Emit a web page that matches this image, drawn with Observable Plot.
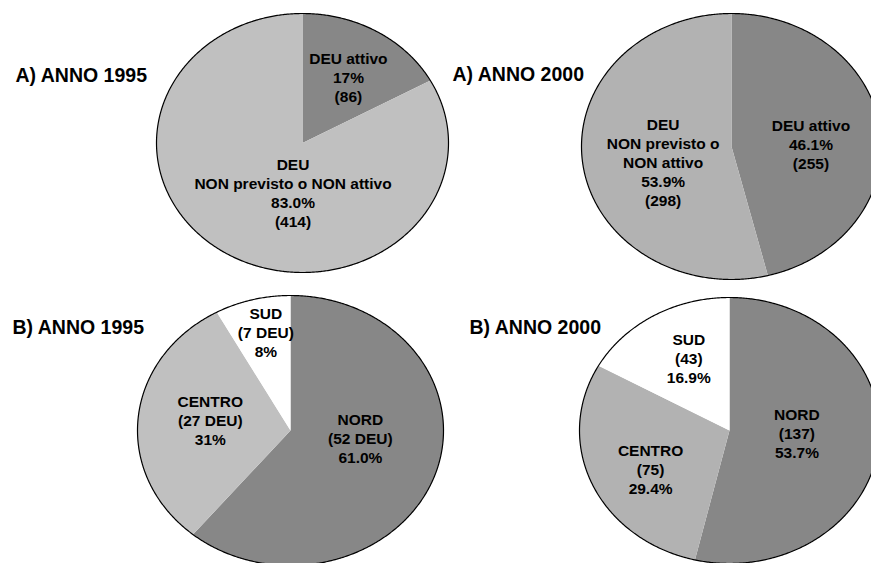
<!DOCTYPE html>
<html><head><meta charset="utf-8">
<script src="https://cdn.jsdelivr.net/npm/d3@7"></script>
<script src="https://cdn.jsdelivr.net/npm/@observablehq/plot@0.6"></script>
<style>body{margin:0;background:#fff} #chart svg{display:block}</style>
</head><body><div id="chart"></div>
<script>
// ---------- DATA ----------
const panelTitles = ["A) ANNO 1995", "A) ANNO 2000", "B) ANNO 1995", "B) ANNO 2000"];

const a1995Categories = ["DEU attivo", "DEU\nNON previsto o NON attivo"];
const a1995Percent = [17, 83.0];
const a1995PercentLabels = ["17%", "83.0%"];
const a1995CountLabels = ["(86)", "(414)"];

const a2000Categories = ["DEU attivo", "DEU\nNON previsto o\nNON attivo"];
const a2000Percent = [46.1, 53.9];
const a2000PercentLabels = ["46.1%", "53.9%"];
const a2000CountLabels = ["(255)", "(298)"];

const b1995Categories = ["NORD", "CENTRO", "SUD"];
const b1995Percent = [61.0, 31, 8];
const b1995PercentLabels = ["61.0%", "31%", "8%"];
const b1995CountLabels = ["(52 DEU)", "(27 DEU)", "(7 DEU)"];

const b2000Categories = ["NORD", "CENTRO", "SUD"];
const b2000Percent = [53.7, 29.4, 16.9];
const b2000PercentLabels = ["53.7%", "29.4%", "16.9%"];
const b2000CountLabels = ["(137)", "(75)", "(43)"];

// ---------- LAYOUT / STYLE ----------
const W = 871, H = 563;
const FONT = "'Liberation Sans', Arial, Helvetica, sans-serif";
const pieLayout = [
  {cx: 302, cy: 142.5, rx: 146, ry: 129.5},
  {cx: 731, cy: 146, rx: 150, ry: 133},
  {cx: 290, cy: 430, rx: 153, ry: 135},
  {cx: 729, cy: 430, rx: 150, ry: 133}
];
const pieColors = [
  ["#878787", "#c0c0c0"],
  ["#878787", "#b2b2b2"],
  ["#878787", "#c0c0c0", "#ffffff"],
  ["#878787", "#b2b2b2", "#ffffff"]
];
// label placement: [angle nudge from slice mid-angle (deg), radius fraction]
const labelNudge = [
  [[1, 0.6], [-21, 0.39]],
  [[5, 0.53], [-7, 0.47]],
  [[-13, 0.46], [3, 0.53], [2, 0.75]],
  [[-4, 0.45], [-5, 0.6], [4, 0.61]]
];
const titlePos = [[15, 75], [452, 74], [12, 327], [469, 327]];

// ---------- BUILD ----------
const pies = [
  {values: a1995Percent, text: a1995Categories.map((c, i) => `${c}\n${a1995PercentLabels[i]}\n${a1995CountLabels[i]}`)},
  {values: a2000Percent, text: a2000Categories.map((c, i) => `${c}\n${a2000PercentLabels[i]}\n${a2000CountLabels[i]}`)},
  {values: b1995Percent, text: b1995Categories.map((c, i) => `${c}\n${b1995CountLabels[i]}\n${b1995PercentLabels[i]}`)},
  {values: b2000Percent, text: b2000Categories.map((c, i) => `${c}\n${b2000CountLabels[i]}\n${b2000PercentLabels[i]}`)}
];

const pieGen = d3.pie().sort(null).value(d => d);
const slicePts = [], outlinePts = [], labels = [];
pies.forEach((p, pi) => {
  const L = pieLayout[pi];
  const px = a => L.cx + L.rx * Math.sin(a);
  const py = a => L.cy - L.ry * Math.cos(a);
  pieGen(p.values).forEach((arc, si) => {
    const id = `${pi}-${si}`;
    const fill = pieColors[pi][si];
    slicePts.push({id, fill, x: L.cx, y: L.cy});
    const n = Math.max(2, Math.ceil((arc.endAngle - arc.startAngle) / (Math.PI / 360)));
    for (let k = 0; k <= n; k++) {
      const a = arc.startAngle + (arc.endAngle - arc.startAngle) * k / n;
      slicePts.push({id, fill, x: px(a), y: py(a)});
    }
    slicePts.push({id, fill, x: L.cx, y: L.cy});
    const [dAng, rf] = labelNudge[pi][si];
    const mid = (arc.startAngle + arc.endAngle) / 2 + dAng * Math.PI / 180;
    labels.push({text: p.text[si], x: L.cx + rf * L.rx * Math.sin(mid), y: L.cy - rf * L.ry * Math.cos(mid)});
  });
  for (let k = 0; k <= 720; k++) {
    const a = 2 * Math.PI * k / 720;
    outlinePts.push({pie: pi, x: px(a), y: py(a)});
  }
});

const chart = Plot.plot({
  width: W, height: H,
  margin: 0,
  x: {domain: [0, W], range: [0, W], axis: null},
  y: {domain: [0, H], range: [0, H], axis: null},
  color: {type: "identity"},
  style: {fontFamily: FONT, background: "#fff"},
  marks: [
    Plot.line(slicePts, {x: "x", y: "y", z: "id", fill: "fill", stroke: "none"}),
    Plot.line(outlinePts, {x: "x", y: "y", z: "pie", stroke: "#000", strokeWidth: 1.2, fill: "none"}),
    Plot.text(labels, {x: "x", y: "y", text: "text", fontSize: 15.5, fontWeight: "bold", fontFamily: FONT,
      lineHeight: 1.23, textAnchor: "middle", lineAnchor: "middle", fill: "#000"}),
    Plot.text(panelTitles, {x: (d, i) => titlePos[i][0], y: (d, i) => titlePos[i][1], text: d => d,
      fontSize: 19.5, fontWeight: "bold", fontFamily: FONT, textAnchor: "start", lineAnchor: "middle", fill: "#000"})
  ]
});
document.getElementById("chart").append(chart);
</script>
</body></html>
